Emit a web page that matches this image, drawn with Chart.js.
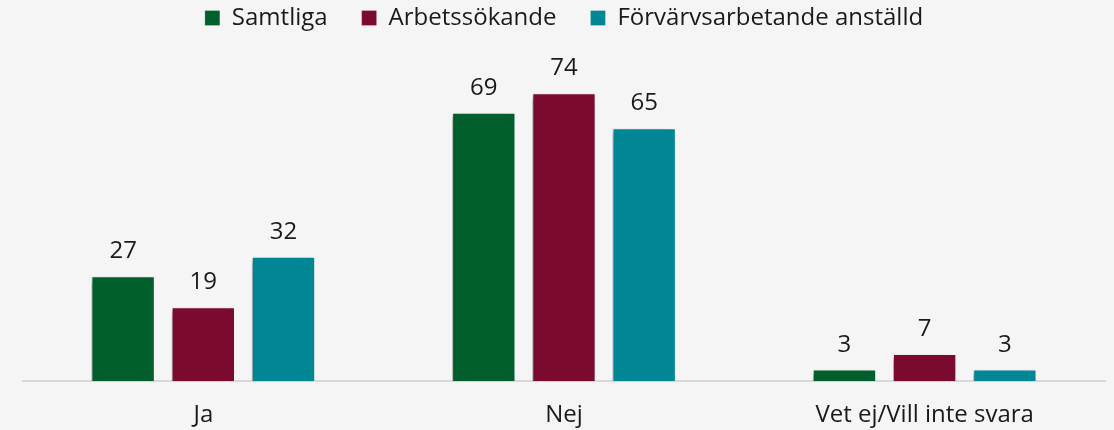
<!DOCTYPE html>
<html>
<head>
<meta charset="utf-8">
<script src="https://cdn.jsdelivr.net/npm/chart.js@4/dist/chart.umd.min.js"></script>
<style>
    html, body { margin: 0; padding: 0; background: #f5f5f5; }
    #wrap { width: 1114px; height: 430px; }
</style>
</head>
<body>
<div id="wrap"><canvas id="chart"></canvas></div>
<script>
    var categories = ['Ja', 'Nej', 'Vet ej/Vill inte svara'];
    var seriesNames = ['Samtliga', 'Arbetssökande', 'Förvärvsarbetande anställd'];
    var samtliga = [27, 69, 3];
    var arbetssokande = [19, 74, 7];
    var forvarvsarbetande = [32, 65, 3];
    var colors = ['#005f2c', '#7b0a2f', '#008694'];

    // extra room between legend and bars
    var legendGap = {
        id: 'legendGap',
        afterInit: function (chart) {
            var fit = chart.legend.fit;
            chart.legend.fit = function () {
                fit.call(this);
                this.height += 30;
            };
        }
    };

    // shadow behind bars, to the left and below
    var barShadow = {
        id: 'barShadow',
        beforeDatasetsDraw: function (chart) {
            var ctx = chart.ctx;
            ctx.save();
            ctx.shadowColor = 'rgba(0,0,0,0.35)';
            ctx.shadowBlur = 6;
            ctx.shadowOffsetX = -4;
            ctx.shadowOffsetY = 3;
        },
        afterDatasetsDraw: function (chart) {
            chart.ctx.restore();
        }
    };

    var valueLabels = {
        id: 'valueLabels',
        afterDatasetsDraw: function (chart) {
            var ctx = chart.ctx;
            ctx.save();
            ctx.font = '24px "Open Sans"';
            ctx.fillStyle = '#1a1a1a';
            ctx.textAlign = 'center';
            ctx.textBaseline = 'alphabetic';
            chart.data.datasets.forEach(function (ds, i) {
                chart.getDatasetMeta(i).data.forEach(function (bar, j) {
                    ctx.fillText(ds.data[j], bar.x, bar.y - 18);
                });
            });
            ctx.restore();
        }
    };

    var seriesData = [samtliga, arbetssokande, forvarvsarbetande];
    var datasets = seriesNames.map(function (name, i) {
        return {
            label: name,
            data: seriesData[i],
            backgroundColor: colors[i],
            borderColor: 'rgba(255,255,255,0.25)',
            borderWidth: 1,
            categoryPercentage: 0.667,
            barPercentage: 0.79
        };
    });

    new Chart(document.getElementById('chart').getContext('2d'), {
        type: 'bar',
        data: { labels: categories, datasets: datasets },
        plugins: [legendGap, barShadow, valueLabels],
        options: {
            responsive: true,
            maintainAspectRatio: false,
            animation: false,
            layout: { padding: { left: 23, right: 9, top: -28, bottom: -20 } },
            plugins: {
                legend: {
                    position: 'top',
                    labels: {
                        boxWidth: 15,
                        boxHeight: 15,
                        padding: 34,
                        color: '#1a1a1a',
                        font: { family: 'Open Sans', size: 24 }
                    }
                },
                tooltip: { enabled: false }
            },
            scales: {
                x: {
                    grid: { display: false, drawTicks: false },
                    border: { display: true, color: '#d9d9d9', width: 2 },
                    ticks: {
                        padding: 20,
                        color: '#1a1a1a',
                        font: { family: 'Open Sans', size: 24 }
                    }
                },
                y: {
                    display: false,
                    min: 0,
                    max: 80
                }
            }
        }
    });
</script>
</body>
</html>
